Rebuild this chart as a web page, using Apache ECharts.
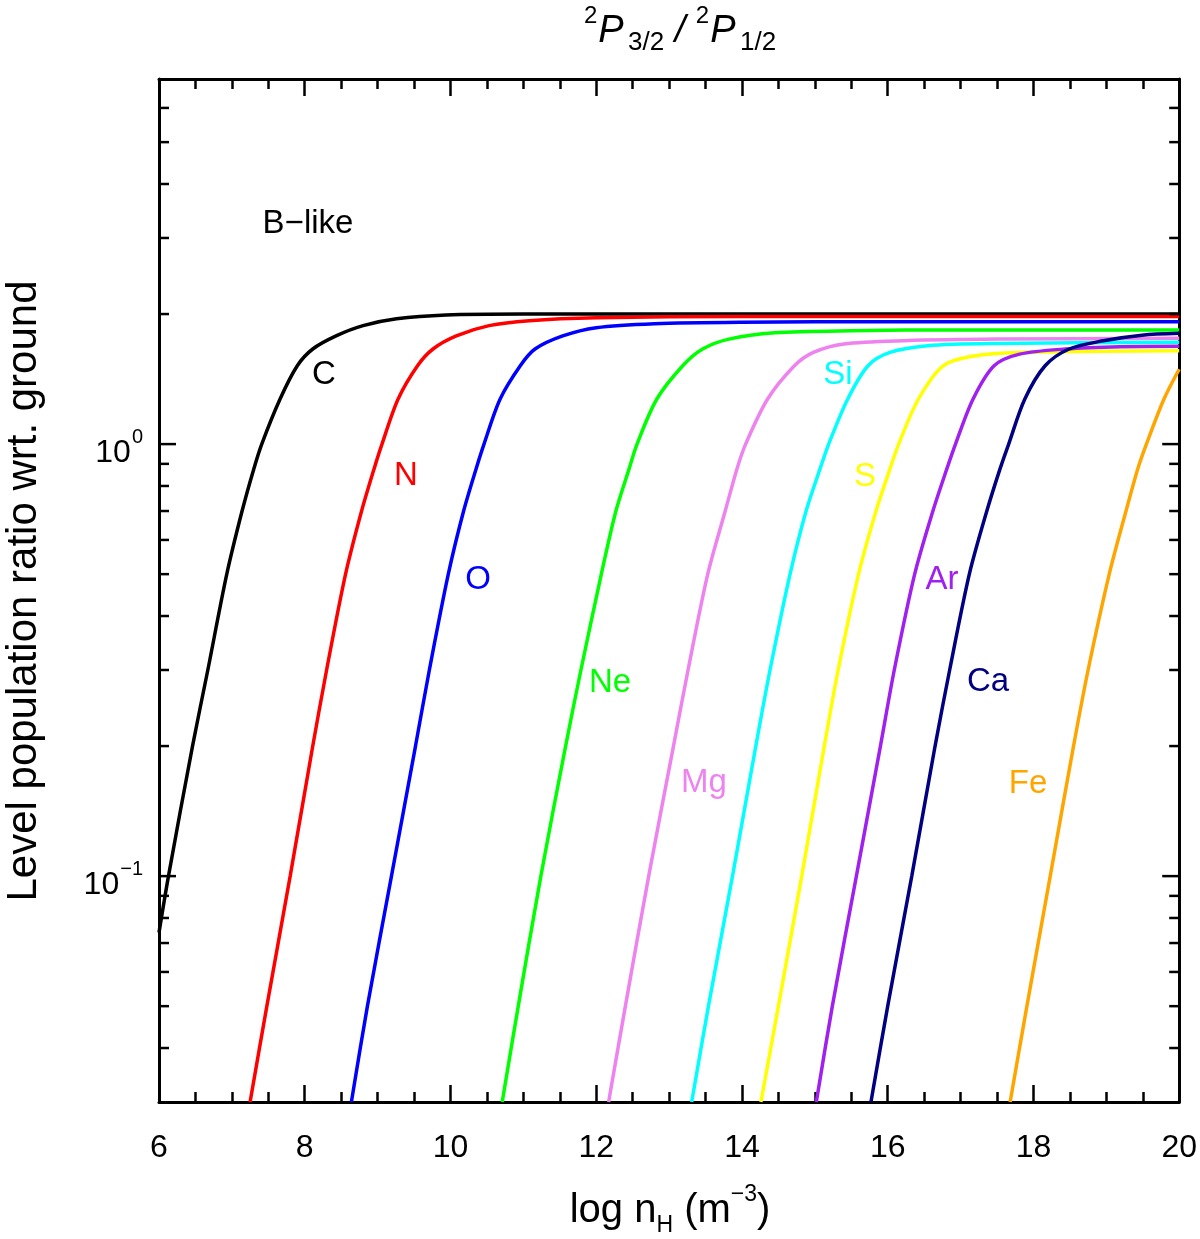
<!DOCTYPE html>
<html><head><meta charset="utf-8">
<script src="https://cdn.jsdelivr.net/npm/echarts@6/dist/echarts.min.js"></script>
<style>html,body{margin:0;padding:0;background:#fff}#c{width:1200px;height:1239px}</style>
</head><body><div id="c"></div>
<script>
// ---- data (log nH, level population ratio) ----
const nC  = [6.0, 6.13, 6.46, 6.67, 6.93, 7.14, 7.30, 7.41, 7.66, 7.90, 8.11, 8.43, 8.80, 9.26, 9.94, 11, 13, 15, 17, 20];
const rC  = [0.074, 0.1, 0.2, 0.3, 0.5, 0.7, 0.875, 1.0, 1.27, 1.52, 1.66, 1.78, 1.88, 1.95, 1.99, 2.0, 2.0, 2.0, 2.0, 2.0];
const nN  = [7.25, 7.48, 7.80, 8.11, 8.30, 8.56, 8.78, 8.95, 9.06, 9.28, 9.55, 9.76, 10.08, 10.53, 11.08, 12, 14, 16, 18, 20];
const rN  = [0.03, 0.05, 0.1, 0.2, 0.3, 0.5, 0.7, 0.875, 1.0, 1.27, 1.52, 1.66, 1.78, 1.88, 1.93, 1.96, 1.975, 1.975, 1.975, 1.975];
const nO  = [8.64, 8.86, 9.19, 9.52, 9.71, 9.97, 10.18, 10.35, 10.46, 10.68, 10.96, 11.16, 11.54, 12.0, 12.8, 14, 16, 18, 20];
const rO  = [0.03, 0.05, 0.1, 0.2, 0.3, 0.5, 0.7, 0.875, 1.0, 1.27, 1.52, 1.66, 1.78, 1.86, 1.90, 1.915, 1.92, 1.92, 1.92];
const nNe = [10.71, 10.93, 11.24, 11.58, 11.79, 12.07, 12.27, 12.45, 12.56, 12.83, 13.19, 13.46, 13.82, 14.45, 15.5, 17, 20];
const rNe = [0.03, 0.05, 0.1, 0.2, 0.3, 0.5, 0.7, 0.875, 1.0, 1.27, 1.52, 1.66, 1.75, 1.81, 1.83, 1.838, 1.838];
const nMg = [12.17, 12.40, 12.72, 13.06, 13.26, 13.53, 13.77, 13.93, 14.05, 14.35, 14.72, 14.98, 15.40, 16.23, 17.5, 20];
const rMg = [0.03, 0.05, 0.1, 0.2, 0.3, 0.5, 0.7, 0.875, 1.0, 1.27, 1.518, 1.63, 1.705, 1.735, 1.75, 1.757];
const nSi = [13.31, 13.54, 13.87, 14.19, 14.385, 14.66, 14.88, 15.07, 15.19, 15.45, 15.73, 16.03, 16.55, 17.5, 20];
const rSi = [0.03, 0.05, 0.1, 0.2, 0.3, 0.5, 0.7, 0.875, 1.0, 1.27, 1.518, 1.63, 1.69, 1.71, 1.72];
const nS  = [14.26, 14.50, 14.82, 15.13, 15.32, 15.60, 15.84, 16.03, 16.15, 16.42, 16.76, 17.18, 17.81, 20];
const rS  = [0.03, 0.05, 0.1, 0.2, 0.3, 0.5, 0.7, 0.875, 1.0, 1.27, 1.518, 1.60, 1.63, 1.644];
const nAr = [15.02, 15.24, 15.57, 15.90, 16.09, 16.37, 16.62, 16.81, 16.93, 17.17, 17.46, 17.81, 18.44, 19.2, 20];
const rAr = [0.03, 0.05, 0.1, 0.2, 0.3, 0.5, 0.7, 0.875, 1.0, 1.27, 1.518, 1.615, 1.66, 1.68, 1.684];
const nCa = [15.77, 16.0, 16.33, 16.65, 16.85, 17.12, 17.36, 17.54, 17.66, 17.88, 18.16, 18.49, 18.96, 19.49, 20];
const rCa = [0.03, 0.05, 0.1, 0.2, 0.3, 0.5, 0.7, 0.875, 1.0, 1.27, 1.518, 1.66, 1.735, 1.787, 1.805];
const nFe = [17.68, 17.91, 18.23, 18.55, 18.75, 19.04, 19.27, 19.43, 19.55, 19.79, 20.0];
const rFe = [0.03, 0.05, 0.1, 0.2, 0.3, 0.5, 0.7, 0.875, 1.0, 1.27, 1.49];

const elementNames = ['C', 'N', 'O', 'Ne', 'Mg', 'Si', 'S', 'Ar', 'Ca', 'Fe'];
const xValues = [nC, nN, nO, nNe, nMg, nSi, nS, nAr, nCa, nFe];
const yValues = [rC, rN, rO, rNe, rMg, rSi, rS, rAr, rCa, rFe];

const xMin = 6, xMax = 20, xStep = 2;
const yMin = 0.03, yMax = 7;
const yMajorTicks = [0.1, 1];
const yMinorTicks = [0.04, 0.05, 0.06, 0.07, 0.08, 0.09, 0.2, 0.3, 0.4, 0.5, 0.6, 0.7, 0.8, 0.9, 2, 3, 4, 5, 6];

// ---- styles ----
const FONT = "'Liberation Sans', Arial, Helvetica, sans-serif";
const colors = ['#000000', '#FF0000', '#0000FF', '#00FF00', '#EE82EE', '#00FFFF', '#FFFF00', '#A020F0', '#000080', '#FFA500'];
const labelPix = [[324, 375], [406, 476], [478, 580], [610, 683], [704, 783], [838, 375], [865, 477], [942, 580], [988, 682], [1028, 784]];

const chart = echarts.init(document.getElementById('c'), null, {renderer: 'canvas'});

const lineSeries = elementNames.map((nm, i) => ({
  type: 'line', name: nm,
  data: xValues[i].map((x, j) => [x, yValues[i][j]]),
  showSymbol: false, symbol: 'none',
  smooth: 0.3,
  lineStyle: {color: colors[i], width: 3.5},
  itemStyle: {color: colors[i]},
  clip: true, silent: true, z: 3
}));

const tickData = yMajorTicks.map(v => [xMin, v, 1]).concat(yMinorTicks.map(v => [xMin, v, 0]));
const tickSeries = {
  type: 'custom', silent: true, clip: false, z: 5,
  data: tickData,
  renderItem: (params, api) => {
    const v = api.value(1), major = api.value(2);
    const len = major ? 17 : 10;
    const pL = api.coord([xMin, v]);
    const pR = api.coord([xMax, v]);
    return {type: 'group', children: [
      {type: 'line', shape: {x1: pL[0], y1: pL[1], x2: pL[0] + len, y2: pL[1]}, style: {stroke: '#000', lineWidth: 2.5}},
      {type: 'line', shape: {x1: pR[0] - len, y1: pR[1], x2: pR[0], y2: pR[1]}, style: {stroke: '#000', lineWidth: 2.5}}
    ]};
  }
};

const axisLineStyle = {show: true, onZero: false, lineStyle: {color: '#000', width: 3}};
const xAxisCommon = {
  type: 'value', min: xMin, max: xMax, interval: xStep,
  axisLine: axisLineStyle,
  axisTick: {show: true, inside: true, length: 17, lineStyle: {color: '#000', width: 2.5}},
  minorTick: {show: true, splitNumber: 4, length: 10, lineStyle: {color: '#000', width: 2.5}},
  splitLine: {show: false}, minorSplitLine: {show: false}
};

const textLabels = elementNames.map((nm, i) => ({
  type: 'text', x: labelPix[i][0], y: labelPix[i][1], z: 10,
  style: {text: nm, fill: colors[i], font: '33px ' + FONT, align: 'center', verticalAlign: 'middle'}
}));

chart.setOption({
  animation: false,
  backgroundColor: '#fff',
  grid: {left: 159, right: 19, top: 79, bottom: 137, containLabel: false},
  xAxis: [
    Object.assign({}, xAxisCommon, {position: 'bottom',
      axisLabel: {show: true, margin: 30, fontSize: 32, color: '#000', fontFamily: FONT}}),
    Object.assign({}, xAxisCommon, {position: 'top', axisLabel: {show: false}})
  ],
  yAxis: [
    {type: 'log', logBase: 10, min: yMin, max: yMax, position: 'left',
      axisLine: axisLineStyle, axisTick: {show: false}, minorTick: {show: false},
      splitLine: {show: false}, minorSplitLine: {show: false},
      axisLabel: {
        show: true, margin: 16, color: '#000', fontFamily: FONT,
        padding: [18, 0, 0, 0],
        formatter: (v) => Math.abs(v - 1) < 1e-6 ? '{b|10}{s|0}' : (Math.abs(v - 0.1) < 1e-7 ? '{b|10}{s|\u22121}' : ''),
        rich: {
          b: {fontSize: 32, lineHeight: 32, fontFamily: FONT, color: '#000', verticalAlign: 'bottom'},
          s: {fontSize: 20, lineHeight: 20, fontFamily: FONT, color: '#000', verticalAlign: 'bottom', padding: [0, 0, 22, 1]}
        }
      }},
    {type: 'log', logBase: 10, min: yMin, max: yMax, position: 'right',
      axisLine: axisLineStyle, axisTick: {show: false}, minorTick: {show: false},
      splitLine: {show: false}, axisLabel: {show: false}}
  ],
  series: lineSeries.concat([tickSeries]),
  graphic: [
    {type: 'text', x: 680, y: 56, z: 10,
      style: {
        text: '{s|2}{p|P}{g| }{d|3/2}{p| / }{s|2}{p|P}{g| }{d|1/2}',
        align: 'center', verticalAlign: 'bottom',
        rich: {
          p: {fontSize: 38, lineHeight: 38, fontStyle: 'italic', fontFamily: FONT, fill: '#000', verticalAlign: 'bottom', padding: [0, 0, 6, 0]},
          g: {fontSize: 16, lineHeight: 16, fontFamily: FONT, verticalAlign: 'bottom'},
          d: {fontSize: 26, lineHeight: 26, fontFamily: FONT, fill: '#000', verticalAlign: 'bottom'},
          s: {fontSize: 24, lineHeight: 24, fontFamily: FONT, fill: '#000', verticalAlign: 'bottom', padding: [0, 1, 28, 0]}
        }
      }},
    {type: 'text', x: 670, y: 1237, z: 10,
      style: {
        text: '{a|log n}{d|H}{a| (m}{s|\u22123}{a|)}',
        align: 'center', verticalAlign: 'bottom',
        rich: {
          a: {fontSize: 40, lineHeight: 40, fontFamily: FONT, fill: '#000', verticalAlign: 'bottom', padding: [0, 0, 6, 0]},
          d: {fontSize: 23, lineHeight: 23, fontFamily: FONT, fill: '#000', verticalAlign: 'bottom'},
          s: {fontSize: 23, lineHeight: 23, fontFamily: FONT, fill: '#000', verticalAlign: 'bottom', padding: [0, 0, 31, 0]}
        }
      }},
    {type: 'text', x: 24, y: 591, rotation: Math.PI / 2, z: 10,
      style: {text: 'Level population ratio wrt. ground', font: '42px ' + FONT, fill: '#000', align: 'center', verticalAlign: 'middle'}},
    {type: 'text', x: 308, y: 224, z: 10,
      style: {text: 'B\u2212like', font: '33px ' + FONT, fill: '#000', align: 'center', verticalAlign: 'middle'}}
  ].concat(textLabels)
});
</script>
</body></html>
